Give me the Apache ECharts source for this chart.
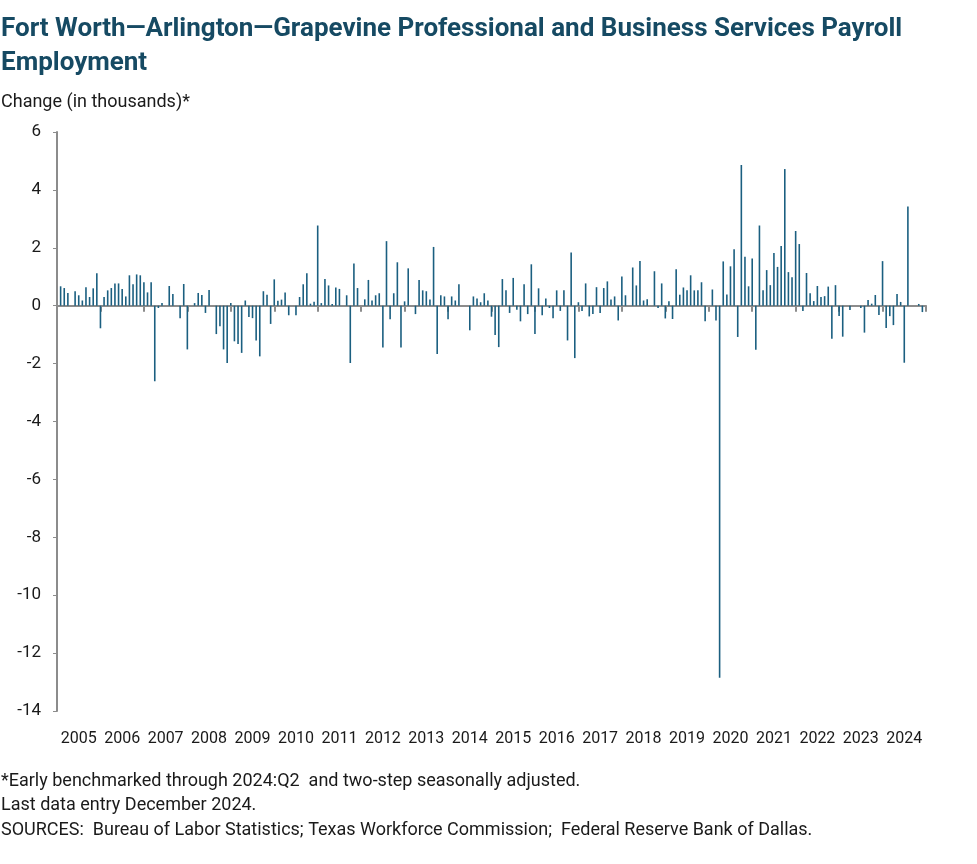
<!DOCTYPE html>
<html>
<head>
<meta charset="utf-8">
<script src="https://cdn.jsdelivr.net/npm/echarts@6/dist/echarts.min.js"></script>
<style>
    html, body { margin: 0; padding: 0; background: #fff; }
    #chart { width: 977px; height: 864px; }
</style>
</head>
<body>
<div id="chart"></div>
<script>
// year labels on the x axis
var years = ['2005', '2006', '2007', '2008', '2009', '2010', '2011', '2012', '2013', '2014',
    '2015', '2016', '2017', '2018', '2019', '2020', '2021', '2022', '2023', '2024'];

// monthly change, thousands (2005 starts in February)
var y2005 = [0.67, 0.61, 0.44, 0, 0.5, 0.36, 0.18, 0.64, 0.3, 0.6, 1.12];
var y2006 = [-0.78, 0.3, 0.53, 0.61, 0.77, 0.77, 0.58, 0.32, 1.05, 0.74, 1.08, 1.05];
var y2007 = [0.81, 0.46, 0.81, -2.61, -0.08, 0.09, 0, 0.68, 0.4, 0, -0.43, 0.75];
var y2008 = [-1.51, 0, 0.09, 0.44, 0.37, -0.25, 0.54, 0, -0.98, -0.71, -1.51, -1.98];
var y2009 = [0.09, -1.23, -1.32, -1.63, 0.18, -0.39, -0.43, -1.2, -1.75, 0.5, 0.38, -0.63];
var y2010 = [0.91, 0.17, 0.21, 0.46, -0.33, 0, -0.33, 0.3, 0.74, 1.12, 0.07, 0.14];
var y2011 = [2.77, 0.09, 0.92, 0.7, 0.06, 0.63, 0.58, 0, 0.36, -1.98, 1.46, 0.61];
var y2012 = [0, 0.22, 0.89, 0.18, 0.36, 0.43, -1.44, 2.23, -0.47, 0.43, 1.5, -1.44];
var y2013 = [0.15, 1.29, 0, -0.29, 0.89, 0.53, 0.5, 0.21, 2.03, -1.67, 0.36, 0.32];
var y2014 = [-0.47, 0.32, 0.18, 0.74, 0, 0, -0.85, 0.32, 0.25, 0.12, 0.43, 0.18];
var y2015 = [-0.38, -1.01, -1.43, 0.92, 0.53, -0.25, 0.96, -0.14, -0.54, 0.74, -0.29, 1.43];
var y2016 = [-0.98, 0.6, -0.33, 0.25, -0.08, -0.43, 0.53, -0.18, 0.53, -1.2, 1.84, -1.81];
var y2017 = [0.12, -0.18, 0.77, -0.37, -0.29, 0.64, -0.25, 0.61, 0.84, 0.21, 0.32, -0.51];
var y2018 = [1.01, 0.36, 0, 1.32, 0.7, 1.54, 0.18, 0.22, 0, 1.19, -0.08, 0.77];
var y2019 = [-0.44, 0.15, -0.46, 1.26, 0.38, 0.63, 0.53, 1.05, 0.53, 0.53, 0.81, -0.54];
var y2020 = [0, 0.56, -0.51, -12.85, 1.53, 0.39, 1.36, 1.95, -1.08, 4.86, 1.69, 0.67];
var y2021 = [1.63, -1.52, 2.77, 0.53, 1.23, 0.71, 1.82, 1.34, 2.06, 4.72, 1.16, 0.98];
var y2022 = [2.58, 2.13, -0.18, 1.13, 0.43, 0.16, 0.68, 0.3, 0.33, 0.66, -1.14, 0.71];
var y2023 = [-0.36, -1.07, 0, -0.15, 0, 0, -0.08, -0.93, 0.2, 0.07, 0.37, -0.32];
var y2024 = [1.54, -0.77, -0.36, -0.67, 0.4, 0.13, -1.97, 3.43, 0, 0, 0.06, -0.22];

var yTicks = [6, 4, 2, 0, -2, -4, -6, -8, -10, -12, -14];

var byYear = [y2005, y2006, y2007, y2008, y2009, y2010, y2011, y2012, y2013, y2014,
    y2015, y2016, y2017, y2018, y2019, y2020, y2021, y2022, y2023, y2024];

var font = "'Liberation Sans Narrow', 'Roboto', 'Noto Sans', sans-serif";
var barColor = '#1b5f80';
var axisGrey = '#8c8c8c';

// x = year + (month - 1) / 12
var points = [];
for (var i = 0; i < byYear.length; i++) {
    var yr = parseInt(years[i], 10);
    var first = 12 - byYear[i].length;
    for (var m = 0; m < byYear[i].length; m++) {
        points.push([yr + (first + m) / 12, byYear[i][m]]);
    }
}

var myChart = echarts.init(document.getElementById('chart'));

function txt(text, top, size) {
    return {
        text: text,
        left: 1,
        top: top,
        padding: 0,
        textStyle: {
            fontFamily: font,
            fontSize: size,
            fontWeight: 'normal',
            color: '#1a1a1a'
        }
    };
}

var option = {
    animation: false,
    title: [{
        text: 'Fort Worth\u2014Arlington\u2014Grapevine Professional and Business Services Payroll\nEmployment',
        left: 1,
        top: 12,
        padding: 0,
        textStyle: {
            fontFamily: font,
            fontSize: 26,
            fontWeight: 'bold',
            color: '#164a63',
            lineHeight: 34
        }
    },
        txt('Change (in thousands)*', 93, 18),
        txt('*Early benchmarked through 2024:Q2  and two-step seasonally adjusted.', 772, 18),
        txt('Last data entry December 2024.', 796, 18),
        txt('SOURCES:  Bureau of Labor Statistics; Texas Workforce Commission;  Federal Reserve Bank of Dallas.', 821, 18)
    ],
    grid: {
        left: 57,
        right: 51,
        top: 132,
        bottom: 153
    },
    xAxis: [{
        type: 'value',
        min: 2005,
        max: 2025,
        interval: 1,
        axisLine: { onZero: true, lineStyle: { color: axisGrey, width: 2 } },
        axisTick: { show: true, length: 6, lineStyle: { color: axisGrey, width: 2 } },
        axisLabel: { show: false },
        splitLine: { show: false }
    }, {
        type: 'category',
        position: 'bottom',
        data: years,
        boundaryGap: true,
        axisLine: { show: false, onZero: false },
        axisTick: { show: false },
        axisLabel: {
            margin: 20,
            fontFamily: font,
            fontSize: 16,
            color: '#1a1a1a',
            interval: 0
        },
        splitLine: { show: false }
    }],
    yAxis: [{
        type: 'value',
        min: -14,
        max: 6,
        interval: 2,
        axisLine: { show: true, lineStyle: { color: axisGrey, width: 2 } },
        axisTick: { show: true, length: 4, lineStyle: { color: axisGrey } },
        axisLabel: {
            margin: 16,
            fontFamily: font,
            fontSize: 17,
            color: '#1a1a1a',
            formatter: function(v) {
                return yTicks.indexOf(v) >= 0 ? String(v) : '';
            }
        },
        splitLine: { show: false }
    }],
    series: [{
        name: 'Change',
        type: 'bar',
        xAxisIndex: 0,
        yAxisIndex: 0,
        barWidth: 1.6,
        itemStyle: { color: barColor },
        data: points
    }]
};
myChart.setOption(option);
</script>
</body>
</html>
